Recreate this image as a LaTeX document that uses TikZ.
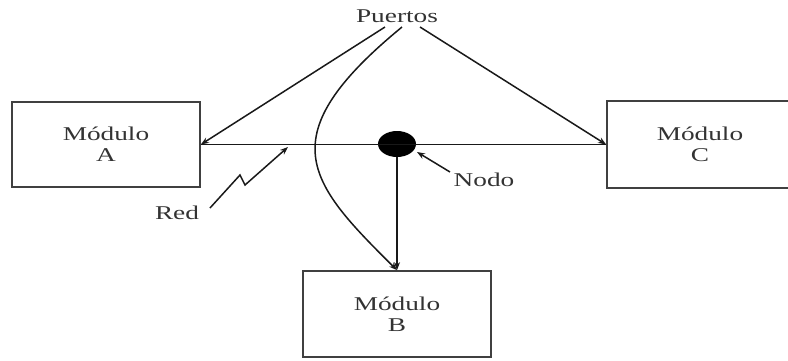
\documentclass[tikz,border=0pt]{standalone}
\usepackage{fontspec}
\setmainfont{Liberation Serif}[FakeStretch=1.4]
\usetikzlibrary{shapes.geometric,arrows.meta}
\begin{document}
\begin{tikzpicture}[x=1pt,y=-1pt,
  every node/.style={font=\fontsize{19.5}{21}\selectfont, text=black!80},
  modbox/.style={draw=black!75, line width=1.7pt, align=center, inner sep=0pt},
  wire/.style={draw=black!90, line width=1.5pt},
  tip/.style={-{Stealth[length=8pt,width=6pt]}}]
\useasboundingbox (0,0) rectangle (788,360);
\node[modbox, minimum width=188, minimum height=85] (A) at (106,144.5) {Módulo\\A};
\node[modbox, minimum width=186, minimum height=87] (C) at (700,144.5) {Módulo\\C};
\node[modbox, minimum width=188, minimum height=86] (B) at (397,314) {Módulo\\B};
\node (P) at (397,16) {Puertos};
\node (red) at (177,213) {Red};
\node (nodo) at (484,180) {Nodo};
\node[ellipse, fill=black, minimum width=38, minimum height=26, inner sep=0pt] (N) at (397,144) {};
\coordinate (p1) at (385,27);
\coordinate (p2) at (402,27);
\coordinate (p3) at (420,27);
\coordinate (c1) at (268,137);
\coordinate (c2) at (308,182);
\coordinate (z1) at (240,175);
\coordinate (z2) at (245,185);
\coordinate (rs) at (210,208);
\coordinate (rt) at (288,147);
\coordinate (ns) at (450,172);
\coordinate (nt) at (417,152);
% network line
\draw[wire] (A.east) -- (C.west);
% ports
\draw[wire, tip] (p1) -- (A.east);
\draw[wire, tip] (p3) -- (C.west);
\draw[wire, tip] (p2) .. controls (c1) and (c2) .. (B.north);
% node to B
\draw[wire, tip] (N.south) -- (B.north);
% Red zigzag
\draw[wire, tip] (rs) -- (z1) -- (z2) -- (rt);
% Nodo pointer
\draw[wire, tip] (ns) -- (nt);
\end{tikzpicture}
\end{document}
